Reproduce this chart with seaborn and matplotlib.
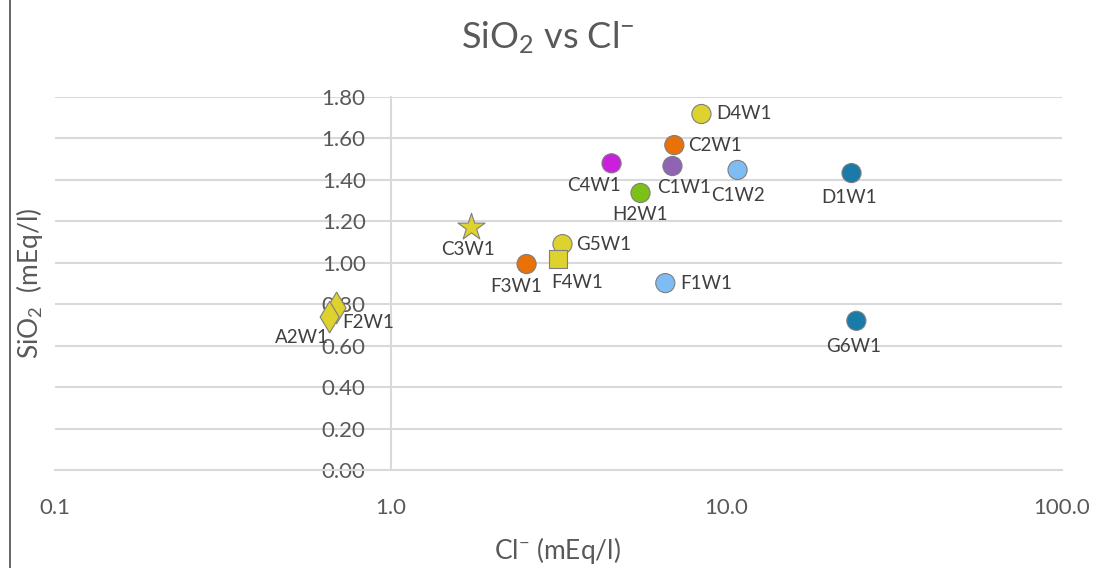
import matplotlib
matplotlib.use("Agg")
import matplotlib.pyplot as plt
import matplotlib.ticker as mticker
from matplotlib.patches import Rectangle
import numpy as np
import pandas as pd
import seaborn as sns

# Sample data: chloride (x) and silica (y), both in mEq/l
samples = ["D4W1", "C2W1", "C4W1", "C1W1", "C1W2", "D1W1", "H2W1", "C3W1",
           "G5W1", "F4W1", "F3W1", "F1W1", "G6W1", "F2W1", "A2W1"]
chloride = [8.43, 7.00, 4.55, 6.91, 10.8, 23.6, 5.55, 1.73,
            3.25, 3.16, 2.54, 6.58, 24.4, 0.69, 0.658]
silica = [1.718, 1.568, 1.48, 1.467, 1.448, 1.433, 1.337, 1.173,
          1.09, 1.018, 0.994, 0.902, 0.72, 0.782, 0.738]
shapes = ["circle", "circle", "circle", "circle", "circle", "circle", "circle", "star",
          "circle", "square", "circle", "circle", "circle", "diamond", "diamond"]
colors = ["#DDD22E", "#E8710A", "#CB1FDE", "#8E64B3", "#7EBDF4", "#1A7BA8", "#7CC118", "#DDD22E",
          "#DDD22E", "#DDD22E", "#E8710A", "#7EBDF4", "#1A7BA8", "#DDD22E", "#DDD22E"]

# Data-label placement (offset in pixels, horizontal alignment)
label_pos = {
    "D4W1": (15, 0, "left"), "C2W1": (14, 0, "left"), "C4W1": (-18, -22, "center"),
    "C1W1": (12, -21, "center"), "C1W2": (0, -26, "center"), "D1W1": (-2, -24, "center"),
    "H2W1": (0, -22, "center"), "C3W1": (-3, -23, "center"), "G5W1": (14, 0, "left"),
    "F4W1": (19, -23, "center"), "F3W1": (-10, -22, "center"), "F1W1": (15, 0, "left"),
    "G6W1": (-3, -26, "center"), "F2W1": (6, -15, "left"), "A2W1": (-1, -20, "right"),
}

df = pd.DataFrame({"sample": samples, "Cl": chloride, "SiO2": silica, "shape": shapes})
palette = dict(zip(samples, colors))

sns.set_theme(style="white")
plt.rcParams["font.family"] = ["Lato", "DejaVu Sans"]
plt.rcParams["mathtext.default"] = "regular"

fig = plt.figure(figsize=(10.96, 5.68), dpi=100)
ax = fig.add_axes([55 / 1096, 98 / 568, (1062 - 55) / 1096, (470 - 97) / 568])

marker_map = {"circle": ("o", 190), "star": ("*", 420), "square": ("s", 170), "diamond": ("d", 260)}
for shp, (mk, size) in marker_map.items():
    sub = df[df["shape"] == shp]
    sns.scatterplot(data=sub, x="Cl", y="SiO2", hue="sample", palette=palette,
                    marker=mk, s=size, edgecolor="#7F7F7F", linewidth=0.8,
                    legend=False, ax=ax, zorder=3)

for s, x, y in zip(samples, chloride, silica):
    dx, dy, ha = label_pos[s]
    ax.annotate(s, (x, y), xytext=(dx, dy), textcoords="offset pixels",
                ha=ha, va="center", fontsize=13.5, color="#404040", zorder=4)

ax.set_xscale("log")
ax.set_xlim(0.1, 100)
ax.set_ylim(0, 1.8)
ax.set_yticks(np.arange(0, 1.81, 0.2))
ax.yaxis.set_major_formatter(mticker.FormatStrFormatter("%.2f"))
ax.set_xticks([0.1, 1, 10, 100])
ax.xaxis.set_major_formatter(mticker.FixedFormatter(["0.1", "1.0", "10.0", "100.0"]))
ax.xaxis.set_minor_locator(mticker.NullLocator())

ax.grid(axis="y", color="#D9D9D9", linewidth=1.5)
ax.grid(axis="x", visible=False)
ax.set_axisbelow(True)

for side in ["top", "right"]:
    ax.spines[side].set_visible(False)
ax.spines["left"].set_position(("data", 1))
ax.spines["left"].set_color("#D9D9D9")
ax.spines["left"].set_linewidth(1.5)
ax.spines["bottom"].set_color("#D9D9D9")
ax.spines["bottom"].set_linewidth(1.5)

ax.tick_params(axis="y", length=0, pad=18, labelsize=16, labelcolor="#595959")
ax.tick_params(axis="x", length=0, pad=20, labelsize=16, labelcolor="#595959")

ax.set_xlabel("")
ax.set_ylabel("")
fig.text(557 / 1096, 1 - 551 / 568, "Cl$^{-}$ (mEq/l)", ha="center", va="center",
         fontsize=19, color="#595959")
fig.text(30 / 1096, 1 - 283 / 568, "SiO$_2$  (mEq/l)", ha="center", va="center",
         rotation=90, fontsize=19, color="#595959")
fig.text(548 / 1096, 1 - 38 / 568, "SiO$_2$ vs Cl$^{-}$", ha="center", va="center",
         fontsize=26, color="#595959")

# Chart frame (left and top edges)
fig.add_artist(Rectangle((10 / 1096, -0.2), 1.3, 1.2 + (1 - 13 / 568), transform=fig.transFigure,
                         fill=False, edgecolor="#595959", linewidth=1.3))

fig.savefig("out.png", dpi=100)
